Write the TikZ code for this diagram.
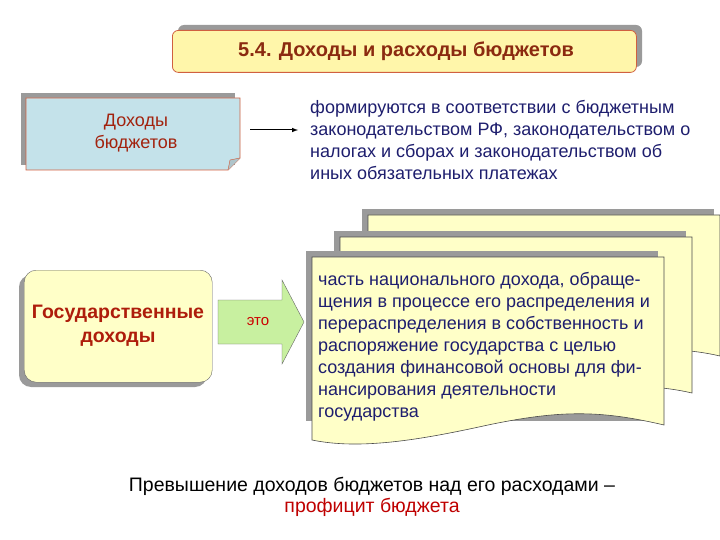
\documentclass[tikz,border=0pt]{standalone}
\usepackage{fontspec}
\setmainfont{Liberation Sans}
\usetikzlibrary{shapes.arrows}
\definecolor{ttl}{HTML}{8B2A10}
\definecolor{dblue}{HTML}{1E1E6E}
\definecolor{lyel}{HTML}{FFFFC8}
\definecolor{shd}{HTML}{9A9A9A}
\definecolor{rbord}{HTML}{D06040}
\definecolor{lblue}{HTML}{C4E2EA}
\definecolor{grn}{HTML}{C8F0A0}
\tikzset{
 shadowbox/.style={fill=shd,draw=none},
 docshape/.style={fill=lyel,draw=black!70,line width=0.6pt},
 body/.style={font=\fontsize{18}{22}\selectfont,text=dblue,align=left,anchor=north west,inner sep=0pt}
}
\begin{document}
\begin{tikzpicture}[x=1pt,y=-1pt]
\useasboundingbox[fill=white] (0,0) rectangle (720,540);
% title
\fill[shd,rounded corners=6] (178,25) rectangle (642,67);
\node[draw=rbord,fill={rgb,255:red,255;green,246;blue,170},rounded corners=6,minimum width=464pt,minimum height=42pt,anchor=north west,inner sep=0pt,line width=0.8pt] (title) at (172,30) {};
\node[font=\bfseries\fontsize{20}{22}\selectfont,text=ttl] (tt) at (406,51) {5.4. Доходы и расходы бюджетов};
% incomes box
\fill[shd] (21,93) rectangle (235,165);
\draw[fill=lblue,draw=rbord,line width=0.8pt] (26,98) -- (240,98) -- (240,158) -- (228,170) -- (26,170) -- cycle;
\draw[fill=lblue!70!gray,draw=rbord] (240,158) -- (230,160) -- (228,170);
\node[font=\fontsize{18}{22}\selectfont,text=ttl!80!red,align=center] (db) at (136,133) {Доходы\\бюджетов};
\coordinate (a1) at (250,130);
\node[body] (form) at (310,100) {формируются в соответствии с бюджетным\\законодательством РФ, законодательством о\\налогах и сборах и законодательством об\\иных обязательных платежах};
\draw[-latex,line width=1pt] (a1) -- (298,130);
% state incomes
\fill[shd,rounded corners=12] (19,275) rectangle (207,387);
\node[draw=black!60,fill=lyel,rounded corners=12,minimum width=188pt,minimum height=112pt,anchor=north west,inner sep=0pt] (gd) at (24,270) {};
\node[font=\bfseries\fontsize{19.5}{24}\selectfont,text=ttl!70!red,align=center] (gdt) at (118,326) {Государственные\\доходы};
% block arrow
\draw[fill=grn,draw=black!60] (218,300) -- (282,300) -- (282,280) -- (304,322) -- (282,364) -- (282,344) -- (218,344) -- cycle;
\node[font=\fontsize{15}{17}\selectfont,text=red!80!black] (eto) at (258,322) {это};
% document stack
\foreach \x/\y/\w/\h in {368/215/352/155, 340/237/352/170}{
 \fill[shd] (\x-6,\y-6) rectangle ++(\w,\h-20);
 \draw[docshape] (\x,\y) -- ++(\w,0) -- ++(0,\h-14) .. controls ++(-60,-14) and ++(60,-10) .. ++(-\w/2,8) .. controls ++(-60,10) and ++(60,20) .. (\x,\y+\h) -- cycle;
}
\fill[shd] (306,251) rectangle ++(352,170);
\draw[docshape] (312,257) -- (664,257) -- (664,425) .. controls (600,410) and (560,410) .. (488,425) .. controls (420,440) and (360,450) .. (312,440) -- cycle;
\node[body] (frt) at (318,272) {часть национального дохода, обраще-\\щения в процессе его распределения и\\перераспределения в собственность и\\ распоряжение государства с целью\\создания финансовой основы для фи-\\нансирования деятельности\\государства};
% bottom text
\node[font=\fontsize{19.5}{21}\selectfont,align=center] (bt) at (372,497) {Превышение доходов бюджетов над его расходами –\\\textcolor{red!75!black}{профицит бюджета}};
\end{tikzpicture}
\end{document}
